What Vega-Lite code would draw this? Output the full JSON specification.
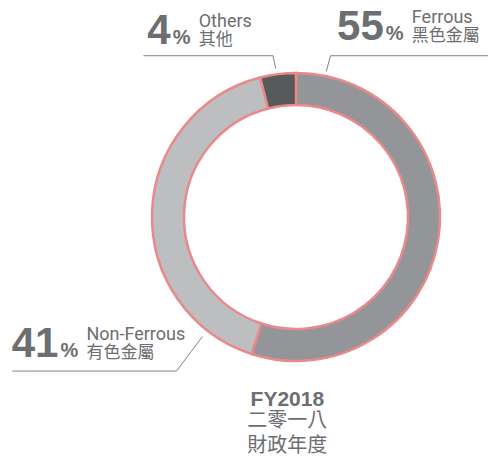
{
  "$schema": "https://vega.github.io/schema/vega-lite/v6.json",
  "width": 288,
  "height": 288,
  "autosize": {"type": "none"},
  "padding": {"left": 152, "top": 73, "right": 48, "bottom": 99},
  "background": "#ffffff",
  "config": {"view": {"stroke": null}},
  "datasets": {
    "slices": [
      {"category": "Ferrous", "value": 55, "order": 1},
      {"category": "Non-Ferrous", "value": 41, "order": 2},
      {"category": "Others", "value": 4, "order": 3}
    ],
    "labels": [
      {"category": "Others", "pct": "4", "en": "Others", "zh": "其他", "lx": -87, "ly": 120},
      {"category": "Ferrous", "pct": "55", "en": "Ferrous", "zh": "黑色金屬", "lx": 61, "ly": 123},
      {"category": "Non-Ferrous", "pct": "41", "en": "Non-Ferrous", "zh": "有色金屬", "lx": -165, "ly": -97}
    ],
    "leaders": [
      {"category": "Others", "seq": 1, "lx": -106, "ly": 112},
      {"category": "Others", "seq": 2, "lx": -16, "ly": 112},
      {"category": "Others", "seq": 3, "lx": -14, "ly": 103},
      {"category": "Ferrous", "seq": 1, "lx": 134, "ly": 112},
      {"category": "Ferrous", "seq": 2, "lx": 24, "ly": 112},
      {"category": "Ferrous", "seq": 3, "lx": 21, "ly": 101},
      {"category": "Non-Ferrous", "seq": 1, "lx": -197, "ly": -107},
      {"category": "Non-Ferrous", "seq": 2, "lx": -83, "ly": -107},
      {"category": "Non-Ferrous", "seq": 3, "lx": -65, "ly": -83}
    ],
    "caption": [
      {"fy": "FY2018", "zh": "二零一八\n財政年度", "lx": -6, "ly": -131}
    ]
  },
  "layer": [
    {
      "data": {"name": "slices"},
      "mark": {"type": "arc", "outerRadius": 144, "innerRadius": 112, "stroke": "#e9898b", "strokeWidth": 2.5},
      "encoding": {
        "theta": {"field": "value", "type": "quantitative", "stack": true},
        "order": {"field": "order", "type": "quantitative"},
        "color": {
          "field": "category",
          "type": "nominal",
          "scale": {"domain": ["Ferrous", "Non-Ferrous", "Others"], "range": ["#939598", "#bcbec0", "#58595b"]},
          "legend": null
        }
      }
    },
    {
      "data": {"name": "leaders"},
      "mark": {"type": "line", "color": "#808285", "strokeWidth": 1},
      "encoding": {
        "x": {"field": "lx", "type": "quantitative", "scale": {"domain": [-100, 100]}, "axis": null},
        "y": {"field": "ly", "type": "quantitative", "scale": {"domain": [-100, 100]}, "axis": null},
        "detail": {"field": "category"},
        "order": {"field": "seq", "type": "quantitative"}
      }
    },
    {
      "data": {"name": "labels"},
      "mark": {"type": "text", "align": "right", "baseline": "alphabetic", "font": "Liberation Sans", "fontWeight": "bold", "fontSize": 42, "color": "#6d6e71"},
      "encoding": {
        "x": {"field": "lx", "type": "quantitative"},
        "y": {"field": "ly", "type": "quantitative"},
        "text": {"field": "pct"}
      }
    },
    {
      "data": {"name": "labels"},
      "mark": {"type": "text", "align": "left", "baseline": "alphabetic", "dx": 2, "font": "Liberation Sans", "fontWeight": "bold", "fontSize": 20, "color": "#6d6e71"},
      "encoding": {
        "x": {"field": "lx", "type": "quantitative"},
        "y": {"field": "ly", "type": "quantitative"},
        "text": {"value": "%"}
      }
    },
    {
      "data": {"name": "labels"},
      "mark": {"type": "text", "align": "left", "baseline": "alphabetic", "dx": 28, "dy": -17, "font": "Roboto", "fontSize": 18, "color": "#6d6e71"},
      "encoding": {
        "x": {"field": "lx", "type": "quantitative"},
        "y": {"field": "ly", "type": "quantitative"},
        "text": {"field": "en"}
      }
    },
    {
      "data": {"name": "labels"},
      "mark": {"type": "text", "align": "left", "baseline": "alphabetic", "dx": 28, "dy": 1, "font": "Noto Sans CJK TC", "fontSize": 17, "color": "#6d6e71"},
      "encoding": {
        "x": {"field": "lx", "type": "quantitative"},
        "y": {"field": "ly", "type": "quantitative"},
        "text": {"field": "zh"}
      }
    },
    {
      "data": {"name": "caption"},
      "mark": {"type": "text", "align": "center", "baseline": "alphabetic", "font": "Liberation Sans", "fontWeight": "bold", "fontSize": 21, "color": "#6d6e71"},
      "encoding": {
        "x": {"field": "lx", "type": "quantitative"},
        "y": {"field": "ly", "type": "quantitative"},
        "text": {"field": "fy"}
      }
    },
    {
      "data": {"name": "caption"},
      "mark": {"type": "text", "align": "center", "baseline": "alphabetic", "dy": 21, "lineBreak": "\n", "lineHeight": 25, "font": "Noto Sans CJK TC", "fontSize": 20, "color": "#6d6e71"},
      "encoding": {
        "x": {"field": "lx", "type": "quantitative"},
        "y": {"field": "ly", "type": "quantitative"},
        "text": {"field": "zh"}
      }
    }
  ]
}
